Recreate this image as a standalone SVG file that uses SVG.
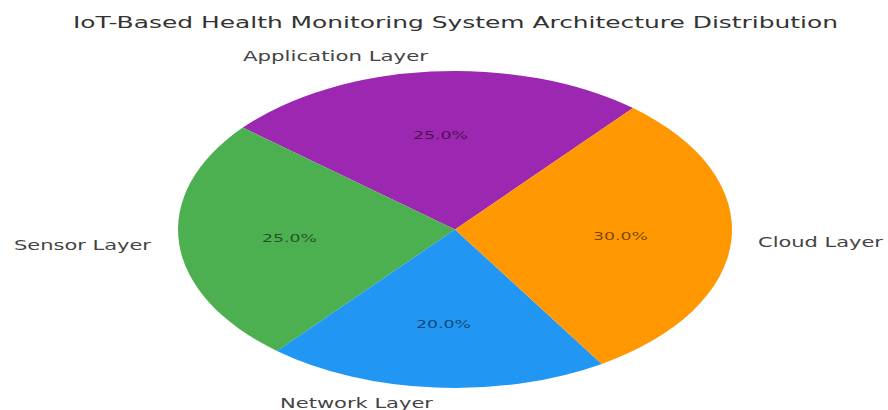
<svg xmlns="http://www.w3.org/2000/svg" width="888" height="410" viewBox="0 0 888 410">
  <style>
    .title { font-family: "DejaVu Sans", "Liberation Sans", sans-serif; font-size: 15px; fill: #333333; }
    .label { font-family: "DejaVu Sans", "Liberation Sans", sans-serif; font-size: 13.5px; fill: #444444; }
    .pct { font-family: "DejaVu Sans", "Liberation Sans", sans-serif; font-size: 11px; fill: #000000; fill-opacity: 0.55; }
  </style>
  <rect width="888" height="410" fill="#ffffff"/>
  <text class="title" x="73" y="27.5" textLength="765" lengthAdjust="spacingAndGlyphs">IoT-Based Health Monitoring System Architecture Distribution</text>

  <g id="application-layer">
    <path d="M455,229.5 L633.05,108.09 A277,158.5 0 0 0 242.82,127.62 Z" fill="#9C27B0"/>
    <text class="pct" x="413" y="138.8" textLength="55" lengthAdjust="spacingAndGlyphs">25.0%</text>
    <text class="label" x="243" y="60.7" textLength="185" lengthAdjust="spacingAndGlyphs">Application Layer</text>
  </g>

  <g id="sensor-layer">
    <path d="M455,229.5 L242.82,127.62 A277,158.5 0 0 0 276.95,350.91 Z" fill="#4CAF50"/>
    <text class="pct" x="262" y="241.8" textLength="55" lengthAdjust="spacingAndGlyphs">25.0%</text>
    <text class="label" x="14" y="249.6" textLength="137" lengthAdjust="spacingAndGlyphs">Sensor Layer</text>
  </g>

  <g id="network-layer">
    <path d="M455,229.5 L276.95,350.91 A277,158.5 0 0 0 601.78,363.91 Z" fill="#2196F3"/>
    <text class="pct" x="416" y="328.3" textLength="55" lengthAdjust="spacingAndGlyphs">20.0%</text>
    <text class="label" x="280" y="408" textLength="153" lengthAdjust="spacingAndGlyphs">Network Layer</text>
  </g>

  <g id="cloud-layer">
    <path d="M455,229.5 L601.78,363.91 A277,158.5 0 0 0 633.05,108.09 Z" fill="#FF9800"/>
    <text class="pct" x="593" y="240.1" textLength="55" lengthAdjust="spacingAndGlyphs">30.0%</text>
    <text class="label" x="758" y="246.6" textLength="125" lengthAdjust="spacingAndGlyphs">Cloud Layer</text>
  </g>

  <g id="connectors"/>
</svg>
